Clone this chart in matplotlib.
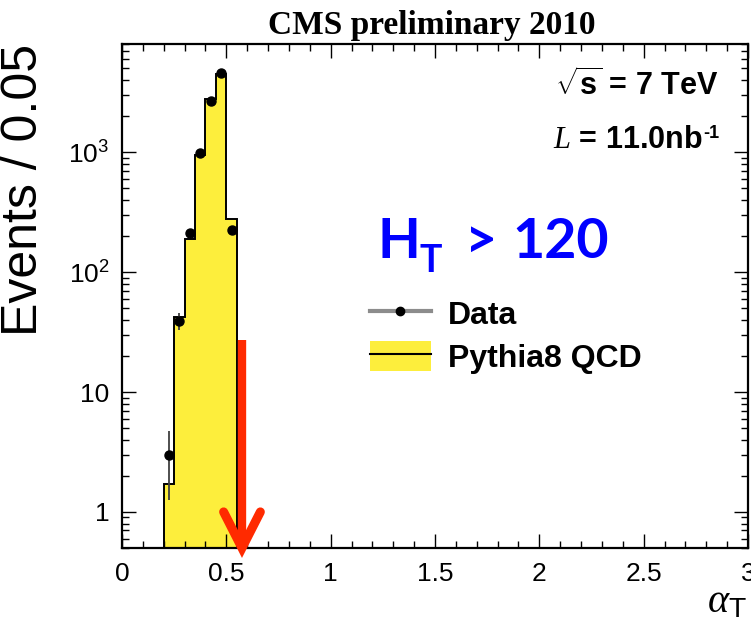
import numpy as np
import matplotlib
matplotlib.use("Agg")
import matplotlib.pyplot as plt
from matplotlib.lines import Line2D
from matplotlib.patches import Patch
from matplotlib.ticker import FixedLocator, MultipleLocator, LogLocator, NullFormatter

# --- alpha_T distribution, 0.05 wide bins -------------------------------
bin_edges = [0.20, 0.25, 0.30, 0.35, 0.40, 0.45, 0.50, 0.55]
mc_counts = [1.7, 42, 188, 944, 2760, 4470, 277]          # Pythia8 QCD
data_centers = [0.225, 0.275, 0.325, 0.375, 0.425, 0.475, 0.525]
data_counts = [3, 39, 211, 980, 2700, 4550, 224]            # data
data_errors = np.sqrt(data_counts)

# cut marker
cut_x = 0.575
cut_top = 27.0
cut_head_top = 1.0
cut_head_halfwidth = 0.088

x_ticks = [0, 0.5, 1, 1.5, 2, 2.5, 3]
x_tick_labels = ["0", "0.5", "1", "1.5", "2", "2.5", "3"]
y_ticks = [1, 10, 100, 1000]
y_tick_labels = ["1", "10", r"$\mathregular{10^{2}}$", r"$\mathregular{10^{3}}$"]

YELLOW = "#fdee3c"
RED = "#ff2a00"
BLUE = "#0000ff"

plt.rcParams["mathtext.fontset"] = "custom"
plt.rcParams["mathtext.rm"] = "Liberation Sans"
plt.rcParams["mathtext.it"] = "Liberation Serif:italic"
plt.rcParams["mathtext.bf"] = "Liberation Sans:bold"
plt.rcParams["font.family"] = ["Liberation Sans", "DejaVu Sans"]

W, H = 751, 621
fig = plt.figure(figsize=(W / 100, H / 100), dpi=100)


def fx(px):
    return px / W


def fy(py):
    return 1 - py / H


ax = fig.add_axes([fx(122), fy(548), (748 - 122) / W, (548 - 44) / H])
ax.set_yscale("log")
ax.set_xlim(0, 3)
ax.set_ylim(0.5, 8000)

# MC histogram: filled and outlined
ax.stairs(mc_counts, bin_edges, baseline=1e-3, fill=True, color=YELLOW, zorder=1)
ax.stairs(mc_counts, bin_edges, baseline=1e-3, fill=False, color="black", lw=1.4, zorder=2)

# data points
ax.errorbar(data_centers, data_counts, yerr=data_errors, fmt="o", color="black",
            ms=6.5, ecolor="#404040", elinewidth=1.3, capsize=0, zorder=3)

# cut arrow
ax.plot([cut_x, cut_x], [cut_top, 0.52], color=RED, lw=6, solid_capstyle="butt",
        zorder=4, clip_on=False)
ax.plot([cut_x - cut_head_halfwidth, cut_x, cut_x + cut_head_halfwidth],
        [cut_head_top, 0.5, cut_head_top], color=RED, lw=6.5,
        solid_joinstyle="miter", solid_capstyle="round", zorder=4, clip_on=False)

# axes styling
for sp in ax.spines.values():
    sp.set_linewidth(1.6)
ax.xaxis.set_major_locator(FixedLocator(x_ticks))
ax.set_xticklabels(x_tick_labels)
ax.xaxis.set_minor_locator(MultipleLocator(0.1))
ax.yaxis.set_major_locator(FixedLocator(y_ticks))
ax.set_yticklabels(y_tick_labels)
ax.yaxis.set_minor_locator(LogLocator(base=10, subs=np.arange(2, 10)))
ax.yaxis.set_minor_formatter(NullFormatter())
ax.tick_params(which="both", direction="in", top=True, right=True, width=1.0)
ax.tick_params(which="major", length=10, labelsize=19)
ax.tick_params(which="minor", length=5)
ax.tick_params(axis="x", which="major", pad=10)
ax.tick_params(axis="y", which="major", pad=9)

# axis titles
fig.text(fx(47), fy(190), "Events / 0.05", rotation=90, ha="right", va="center",
         fontsize=36)
fig.text(fx(747), fy(612), r"$\alpha_{\mathrm{T}}$", ha="right", va="baseline",
         fontsize=29)

# header and labels
fig.text(fx(432), fy(34), "CMS preliminary 2010", ha="center", va="baseline",
         fontsize=24, fontweight="bold", family="Liberation Serif")
fig.text(fx(718), fy(95), r"$\sqrt{\mathbf{s}}$ = 7 TeV", ha="right", va="baseline",
         fontsize=22, fontweight="bold")
fig.text(fx(702), fy(148), r"$L$ = 11.0nb", ha="right", va="baseline",
         fontsize=22, fontweight="bold")
fig.text(fx(703), fy(138), "-1", ha="left", va="baseline",
         fontsize=13, fontweight="bold")

# selection label
fig.text(fx(377), fy(258), "H", ha="left", va="baseline", fontsize=40,
         fontweight="bold", color=BLUE, family="Lato")
fig.text(fx(419), fy(272), "T", ha="left", va="baseline", fontsize=27,
         fontweight="bold", color=BLUE, family="Lato")
fig.text(fx(465), fy(258), ">", ha="left", va="baseline", fontsize=40,
         fontweight="bold", color=BLUE, family="Lato")
fig.text(fx(512), fy(258), "120", ha="left", va="baseline", fontsize=40,
         fontweight="bold", color=BLUE, family="Lato")

# legend
h_data = Line2D([], [], color="#8c8c8c", lw=3, marker="o", mfc="black", mec="black", ms=6)
h_mc = (Patch(facecolor=YELLOW, edgecolor="none"), Line2D([], [], color="black", lw=1.5))
leg = ax.legend([h_data, h_mc], ["Data", "Pythia8 QCD"], loc="upper left",
                bbox_to_anchor=(fx(370), fy(298)), bbox_transform=fig.transFigure,
                frameon=False, borderpad=0, borderaxespad=0, handlelength=1.9,
                handleheight=1.1, handletextpad=0.55, labelspacing=0.3,
                prop={"size": 23, "weight": "bold"})

fig.savefig("out.png", dpi=100)
